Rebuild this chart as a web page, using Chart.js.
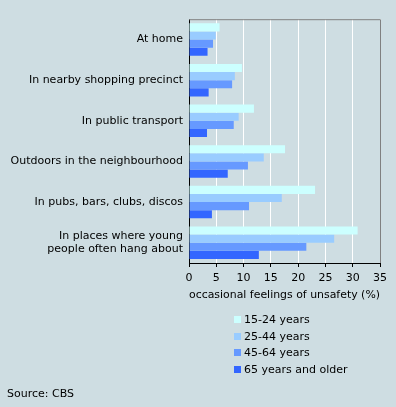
<!DOCTYPE html>
<html>
<head>
<meta charset="utf-8">
<script src="https://cdn.jsdelivr.net/npm/chart.js@4"></script>
<style>
  html, body { margin: 0; padding: 0; background: #cedde2; }
  body { width: 396px; height: 407px; position: relative; overflow: hidden; font-family: 'DejaVu Sans', Verdana, sans-serif; font-size: 11px; color: #000; }
  #wrap { position: absolute; left: 0; top: 0; width: 396px; height: 407px; }
  #legend { position: absolute; left: 234px; top: 313px; }
  .item { height: 16.5px; line-height: 14px; white-space: nowrap; }
  .sw { display: inline-block; width: 7px; height: 7px; margin-right: 3px; vertical-align: 0px; }
  #source { position: absolute; left: 7px; top: 387px; }
</style>
</head>
<body>
<div id="wrap"><canvas id="unsafetyChart" width="396" height="407"></canvas></div>
<div id="legend"></div>
<div id="source">Source: CBS</div>
<script>
const places = ['At home', 'In nearby shopping precinct', 'In public transport',
  'Outdoors in the neighbourhood', 'In pubs, bars, clubs, discos',
  ['In places where young', 'people often hang about']];
const ageGroups = ['15-24 years', '25-44 years', '45-64 years', '65 years and older'];
const age15to24 = [5.6, 9.7, 11.9, 17.6, 23.1, 30.9];
const age25to44 = [4.9, 8.4, 9.1, 13.7, 17.0, 26.6];
const age45to64 = [4.4, 7.9, 8.2, 10.8, 11.0, 21.5];
const age65plus = [3.4, 3.6, 3.3, 7.1, 4.2, 12.8];
const xTicks = [0, 5, 10, 15, 20, 25, 30, 35];

const colors = ['#ccffff', '#99ccff', '#6699ff', '#3366ff'];
const series = [age15to24, age25to44, age45to64, age65plus];
const font = { family: "'DejaVu Sans', Verdana, sans-serif", size: 11 };

// gray top and right border of the plot
const frame = {
  id: 'frame',
  afterDraw(chart) {
    const a = chart.chartArea, ctx = chart.ctx;
    ctx.save();
    ctx.strokeStyle = '#808080';
    ctx.lineWidth = 1;
    ctx.beginPath();
    ctx.moveTo(a.left, a.top + 0.5);
    ctx.lineTo(a.right + 0.5, a.top + 0.5);
    ctx.lineTo(a.right + 0.5, a.bottom);
    ctx.stroke();
    ctx.restore();
  }
};

new Chart(document.getElementById('unsafetyChart'), {
  type: 'bar',
  data: {
    labels: places,
    datasets: series.map((d, i) => ({
      label: ageGroups[i],
      data: d,
      backgroundColor: colors[i],
      borderWidth: 0,
      categoryPercentage: 0.8,
      barPercentage: 1.0
    }))
  },
  options: {
    indexAxis: 'y',
    responsive: false,
    animation: false,
    layout: { padding: { top: 16, right: 16, bottom: 101, left: 0 } },
    plugins: { legend: { display: false }, tooltip: { enabled: false } },
    scales: {
      x: {
        min: 0, max: 35,
        afterBuildTicks(axis) { axis.ticks = xTicks.map(v => ({ value: v })); },
        afterFit(axis) { axis.height = 43; },
        grid: { color: '#ffffff', lineWidth: 1, tickColor: '#000', tickLength: 4 },
        border: { color: '#000', width: 1 },
        ticks: { color: '#000', font: font, padding: 5, maxRotation: 0 },
        title: { display: true, text: 'occasional feelings of unsafety (%)', color: '#000', font: font }
      },
      y: {
        afterFit(axis) { axis.width = 189; },
        grid: { display: false, drawTicks: false },
        border: { color: '#000', width: 1 },
        ticks: { color: '#000', font: font, padding: 6, autoSkip: false }
      }
    }
  },
  plugins: [frame]
});

// legend built from the same arrays
const legend = document.getElementById('legend');
ageGroups.forEach((g, i) => {
  const row = document.createElement('div');
  row.className = 'item';
  row.innerHTML = '<span class="sw" style="background:' + colors[i] + '"></span>' + g;
  legend.appendChild(row);
});
</script>
</body>
</html>
